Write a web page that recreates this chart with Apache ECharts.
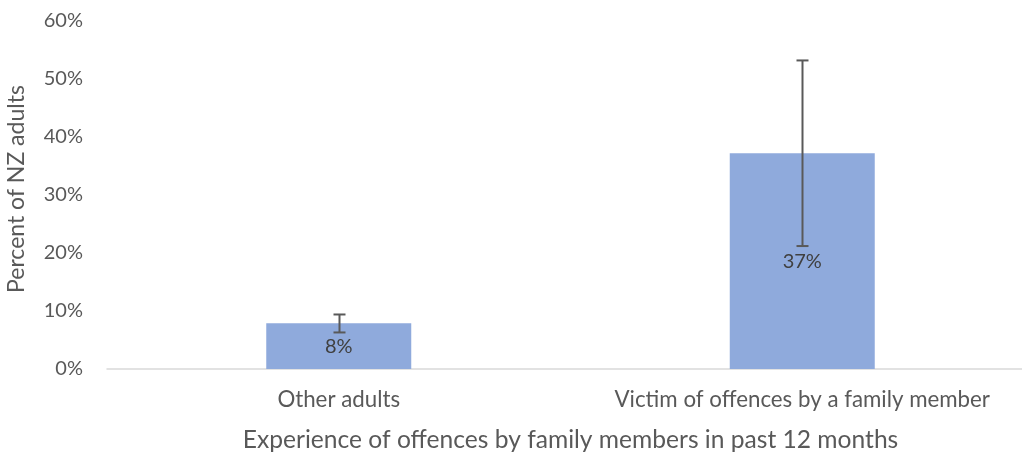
<!DOCTYPE html>
<html>
<head>
<meta charset="utf-8">
<script src="https://cdn.jsdelivr.net/npm/echarts@6/dist/echarts.min.js"></script>
<style>html,body{margin:0;padding:0;background:#fff}#c{width:1022px;height:452px}</style>
</head>
<body>
<div id="c"></div>
<script>
const categories = ['Other adults', 'Victim of offences by a family member'];
const values = [7.9, 37.2];
const errLow = [6.3, 21.2];
const errHigh = [9.4, 53.2];
const yTicks = [0, 10, 20, 30, 40, 50, 60];
const xTitle = 'Experience of offences by family members in past 12 months';
const yTitle = 'Percent of NZ adults';

const FONT = 'Lato, "Open Sans", sans-serif';
const chart = echarts.init(document.getElementById('c'), null, {renderer: 'canvas'});
chart.setOption({
  animation: false,
  grid: {left: 107, right: -12, top: 21, bottom: 83, outerBoundsMode: 'none', containLabel: false},
  xAxis: {
    type: 'category',
    data: categories,
    axisLine: {lineStyle: {color: '#D9D9D9', width: 1.5}},
    axisTick: {show: false},
    axisLabel: {color: '#595959', fontFamily: FONT, fontSize: 22.3, margin: 20, interval: 0, hideOverlap: false},
    name: xTitle,
    nameLocation: 'middle',
    nameGap: 59,
    nameTextStyle: {color: '#595959', fontFamily: FONT, fontSize: 24.6}
  },
  yAxis: {
    type: 'value',
    min: yTicks[0],
    max: yTicks[yTicks.length - 1],
    interval: 10,
    splitLine: {show: false},
    axisLine: {show: false},
    axisTick: {show: false},
    axisLabel: {color: '#595959', fontFamily: FONT, fontSize: 20, margin: 24, formatter: v => v + '%'},
    name: yTitle,
    nameLocation: 'middle',
    nameGap: 79,
    nameTextStyle: {color: '#595959', fontFamily: FONT, fontSize: 23, padding: [0, 0, 0, 12]}
  },
  series: [
    {
      type: 'bar',
      data: values,
      barWidth: 145,
      itemStyle: {color: '#8FAADC'},
      label: {show: true, position: 'inside', color: '#404040', fontFamily: FONT, fontSize: 20,
        formatter: p => Math.round(p.value) + '%'}
    },
    {
      type: 'custom',
      data: categories.map((c, i) => [i, errLow[i], errHigh[i]]),
      z: 10,
      renderItem: function (params, api) {
        const lo = api.coord([api.value(0), api.value(1)]);
        const hi = api.coord([api.value(0), api.value(2)]);
        const x = Math.round(lo[0]) + 0.5;
        const hw = 6;
        const st = {stroke: '#595959', lineWidth: 2};
        return {
          type: 'group',
          children: [
            {type: 'line', shape: {x1: x, y1: lo[1], x2: x, y2: hi[1]}, style: st},
            {type: 'line', shape: {x1: x - hw, y1: lo[1], x2: x + hw, y2: lo[1]}, style: st},
            {type: 'line', shape: {x1: x - hw, y1: hi[1], x2: x + hw, y2: hi[1]}, style: st}
          ]
        };
      }
    }
  ]
});
</script>
</body>
</html>
